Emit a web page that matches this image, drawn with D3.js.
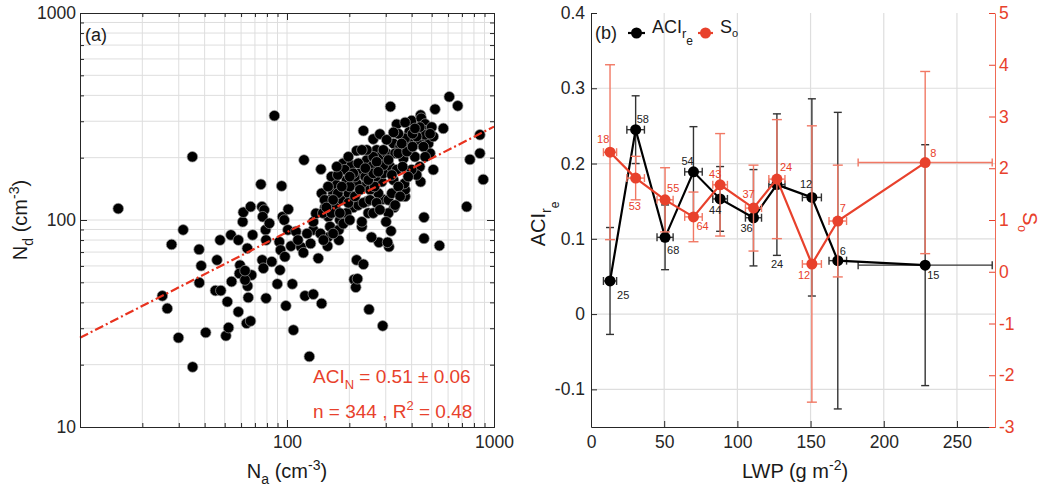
<!DOCTYPE html>
<html><head><meta charset="utf-8">
<script src="https://cdn.jsdelivr.net/npm/d3@7"></script>
<style>body{margin:0;background:#fff} svg{display:block} text{font-family:"Liberation Sans",Arial,sans-serif}</style>
</head><body><svg id="c" width="1050" height="495"></svg>
<script>
// ---------- Panel (a) data: aerosol vs droplet number ----------
const naValues = [15.3,34.9,25,26.4,29.9,27.7,31.5,35,37.6,38.5,37.7,40.5,45.9,45.1,47.9,47.5,50.7,52.2,51.5,53.6,54,58.2,58.2,59.3,58.9,61.1,61.5,63.8,66.7,65,64.5,64.3,66.7,68.2,67.4,62.7,62.7,74.8,75.7,77.6,76.3,78.8,79.2,75.9,76.9,79.2,82.2,84.4,86.9,91.8,92.5,94.2,89.8,93.1,95.2,97,97.7,98.8,101.4,101,104.5,106.1,107.4,110.5,116.9,120.8,120,122.2,128.2,134,134,134,138,141.6,145.9,147,147,152.6,157,157,158.4,161.4,
211,215,219,217,234,249,290,278,311,306,318,256,178,178,180,209,230,230,234,261,281,316,217,271,339,400,390,423,442,445,465,470,500,519,569,608,668,855,855,765,887,738,459,459,545,509,442,372,372,369,329,309,301,290,287,276,268,247,243,234,149,167,164,187,205,194,174,184,198,217,225,243,256,281,303,315,327,352,365,339,327,393,415,431,438,473,482,491,423,400,385,465,509,423,372,345,303,292,261,158,161,171,194,209,221,234,252,265,292,292,333,362,190,176,152,164,176,201,213,239,247,261,
174,198,209,221,239,271,276,309,321,345,380,404,456,465,491,438,404,358,327,372,415,243,230,201,184,167,155,180,198,213,225,252,271,261,281,309,321,345,352,333,187,201,167,145,150,130,125,113];
const ndValues = [113.5,202,43,37.4,27,76.2,89.6,19.5,72.1,60.1,49.8,28.6,64.1,45.6,45.6,80,27.6,30.2,40.3,84.7,50.4,80,36,60.5,55.2,98,109,31.7,32.5,42.2,48,73,116,84.7,54.2,51.3,56.9,148.7,116,111.7,103.7,89.6,80,64.1,58.5,41.9,96.4,62.9,319,78.5,57.3,146,49.1,71.6,103.7,100,66.5,38.5,112.7,89.6,74.8,49.1,29.4,88,74,195,69.5,43,21.9,43.8,89.6,98,107.6,65.3,176,134.6,39.5,115,82.4,74.8,103.7,92.9,
51.6,47.3,52,64.1,61.1,37,30.8,78,74.3,78,88.5,82.6,80,89.6,100,115,92.9,98,270,246,260,353,216,218,290,302,267,270,321,310,291,270,281,343,277,394,356,258,210,196,157,116,103,81.5,75.2,175,153,130,140,150,115,108,98,126,153,134.6,162,108,123,145,108,134.6,162,188,184,156,148,125,134.6,150,168,195,181,202,210,181,234,226,198,175,156,234,202,234,181,248,234,210,165,175,162,258,253,253,248,261,244,218,202,145,125,115,108,125,118,121,140,145,168,184,210,181,175,165,125,108,134.6,145,162,162,156,168,
181,202,168,188,178,191,171,195,165,210,214,226,226,202,261,281,261,234,265,296,277,218,218,162,145,125,115,108,121,130,140,125,121,108,112,125,134.6,145,130,118,96,100,86,86,80,77,86,80];
const fitSlope = 0.51, fitCoef = 8.34;           // Nd = coef * Na^slope
const xTickLabelsA = [100, 1000];
const yTickLabelsA = [10, 100, 1000];

// ---------- Panel (b) data ----------
const lwp      = [13, 30.5, 50.6, 70, 88.2, 111, 127, 150.9, 168.6, 228.3];
const lwpErr   = [4.5, 6, 5.5, 6, 5, 5.5, 5.5, 6.5, 6, 45.8];
const aciRe    = [0.044, 0.245, 0.102, 0.189, 0.153, 0.128, 0.172, 0.155, 0.071, 0.065];
const aciReErr = [0.071, 0.045, 0.043, 0.06, 0.043, 0.064, 0.094, 0.131, 0.197, 0.16];
const aciCounts = [25, 58, 68, 54, 44, 36, 24, 12, 6, 15];
const so       = [2.31, 1.81, 1.39, 1.06, 1.68, 1.23, 1.79, 0.15, 0.98, 2.11];
const soErr    = [1.69, 0.42, 0.62, 0.48, 0.99, 0.83, 1.15, 2.67, 1.08, 1.76];
const soCounts = [18, 53, 55, 64, 43, 37, 24, 12, 7, 8];
const xTicksB = [0, 50, 100, 150, 200, 250];
const yLeftTicksB = [-0.1, 0, 0.1, 0.2, 0.3, 0.4];
const yRightTicksB = [-3, -2, -1, 0, 1, 2, 3, 4, 5];

// ---------- layout / style (not data) ----------
const aciLabelOffsets = [[7,18],[1,-7],[2,17],[-12,-7],[-11,15],[-13,14],[-6,83],[-12,-9],[2,-6],[2,14]];
const soLabelOffsets  = [[-13,-9],[-7,32],[2,-8],[3,13],[-11,-7],[-11,-10],[3,-8],[-14,15],[2,-9],[5,-6]];
const RED = '#e8412c', RED_ERR = '#f17864', AX = '#262626', GRID = '#dedede';

const svg = d3.select('#c');

// ================= Panel (a) =================
const xa = d3.scaleLog().domain([10, 1000]).range([80, 494]);
const ya = d3.scaleLog().domain([10, 1000]).range([427, 13]);
const ga = svg.append('g');
const allTicksX = xa.ticks().filter(v => v > 10 && v < 1000);
const allTicksY = ya.ticks().filter(v => v > 10 && v < 1000);
ga.selectAll('.gx').data(allTicksX).join('line')
  .attr('x1', d => xa(d)).attr('x2', d => xa(d)).attr('y1', 13).attr('y2', 427)
  .attr('stroke', GRID).attr('stroke-width', 1);
ga.selectAll('.gy').data(allTicksY).join('line')
  .attr('y1', d => ya(d)).attr('y2', d => ya(d)).attr('x1', 80).attr('x2', 494)
  .attr('stroke', GRID).attr('stroke-width', 1);

// scatter
const pts = naValues.map((v, i) => [v, ndValues[i]]);
ga.append('g').selectAll('circle').data(pts).join('circle')
  .attr('cx', d => xa(d[0])).attr('cy', d => ya(d[1])).attr('r', 5.3)
  .attr('fill', '#000').attr('stroke', '#9a9a9a').attr('stroke-width', 0.7);

// fit line
const fitLine = d3.line().x(d => xa(d)).y(d => ya(fitCoef * Math.pow(d, fitSlope)));
ga.append('path').attr('d', fitLine([10, 1000])).attr('fill', 'none')
  .attr('stroke', '#e8321e').attr('stroke-width', 2.2).attr('stroke-dasharray', '9,3,2,3');

// axes (ticks inward)
const minorX = xa.ticks().filter(v => !xTickLabelsA.includes(v) && v !== 10);
const minorY = ya.ticks().filter(v => !yTickLabelsA.includes(v));
function styleAxis(g, col) {
  g.select('.domain').attr('stroke', col);
  g.selectAll('.tick line').attr('stroke', col);
  g.selectAll('.tick text').attr('fill', col).attr('font-size', 17.5)
    .attr('font-family', '"Liberation Sans", Arial, sans-serif');
}
ga.append('g').attr('transform', 'translate(0,427)')
  .call(d3.axisBottom(xa).tickValues(xTickLabelsA).tickSize(-7).tickSizeOuter(0).tickPadding(9).tickFormat(d3.format('d')))
  .call(g => styleAxis(g, AX));
ga.append('g').attr('transform', 'translate(0,427)')
  .call(d3.axisBottom(xa).tickValues(minorX).tickSize(-4).tickSizeOuter(0).tickFormat(''))
  .call(g => styleAxis(g, AX));
ga.append('g').attr('transform', 'translate(0,13)')
  .call(d3.axisTop(xa).tickValues(xTickLabelsA).tickSize(-7).tickSizeOuter(0).tickFormat(''))
  .call(g => styleAxis(g, AX));
ga.append('g').attr('transform', 'translate(0,13)')
  .call(d3.axisTop(xa).tickValues(minorX).tickSize(-4).tickSizeOuter(0).tickFormat(''))
  .call(g => styleAxis(g, AX));
ga.append('g').attr('transform', 'translate(80,0)')
  .call(d3.axisLeft(ya).tickValues(yTickLabelsA).tickSize(-7).tickSizeOuter(0).tickPadding(4).tickFormat(d3.format('d')))
  .call(g => styleAxis(g, AX));
ga.append('g').attr('transform', 'translate(80,0)')
  .call(d3.axisLeft(ya).tickValues(minorY).tickSize(-4).tickSizeOuter(0).tickFormat(''))
  .call(g => styleAxis(g, AX));
ga.append('g').attr('transform', 'translate(494,0)')
  .call(d3.axisRight(ya).tickValues(yTickLabelsA).tickSize(-7).tickSizeOuter(0).tickFormat(''))
  .call(g => styleAxis(g, AX));
ga.append('g').attr('transform', 'translate(494,0)')
  .call(d3.axisRight(ya).tickValues(minorY).tickSize(-4).tickSizeOuter(0).tickFormat(''))
  .call(g => styleAxis(g, AX));

// text helper: parts [text, size, dy]
function rich(parent, x, y, parts, opts = {}) {
  const t = parent.append('text').attr('x', x).attr('y', y).attr('fill', opts.fill || '#1a1a1a');
  if (opts.anchor) t.attr('text-anchor', opts.anchor);
  if (opts.transform) t.attr('transform', opts.transform).attr('x', 0).attr('y', 0);
  parts.forEach(p => t.append('tspan').text(p[0]).attr('font-size', p[1]).attr('dy', p[2] || 0));
  return t;
}
rich(ga, 85, 41, [['(a)', 18]]);
rich(ga, 287, 478, [['N', 20], ['a', 14, 6], [' (cm', 20, -6], ['-3', 14, -8], [')', 20, 8]], {anchor: 'middle'});
rich(ga, 0, 0, [['N', 20], ['d', 14, 6], [' (cm', 20, -6], ['-3', 14, -8], [')', 20, 8]],
  {anchor: 'middle', transform: 'translate(27,220) rotate(-90)'});
rich(ga, 313, 383, [['ACI', 19], ['N', 13, 6], [' = 0.51 \u00b1 0.06', 19, -6]], {fill: RED});
rich(ga, 313, 418, [['n = 344 , R', 19], ['2', 13, -8], [' = 0.48', 19, 8]], {fill: RED});

// ================= Panel (b) =================
const xb = d3.scaleLinear().domain([0, 276]).range([591, 995]);
const yl = d3.scaleLinear().domain([-0.15, 0.4]).range([427, 13]);
const yr = d3.scaleLinear().domain([-3, 5]).range([427, 13]);
const gb = svg.append('g');
gb.selectAll('.gx').data(xTicksB.filter(v => v > 0)).join('line')
  .attr('x1', d => xb(d)).attr('x2', d => xb(d)).attr('y1', 13).attr('y2', 427)
  .attr('stroke', GRID).attr('stroke-width', 1.2);
gb.selectAll('.gy').data(yLeftTicksB.filter(v => v < 0.4)).join('line')
  .attr('y1', d => yl(d)).attr('y2', d => yl(d)).attr('x1', 591).attr('x2', 995)
  .attr('stroke', GRID).attr('stroke-width', 1.2);

function drawSeries(g, ys, yErr, scale, col, errCol, capY, capX, r) {
  const eg = g.append('g').attr('stroke', errCol).attr('stroke-width', 1.4).attr('fill', 'none');
  lwp.forEach((x, i) => {
    const cx = xb(x), cy = scale(ys[i]);
    const y0 = scale(ys[i] - yErr[i]), y1 = scale(ys[i] + yErr[i]);
    const x0 = xb(x - lwpErr[i]), x1 = xb(x + lwpErr[i]);
    eg.append('line').attr('x1', cx).attr('x2', cx).attr('y1', y0).attr('y2', y1);
    eg.append('line').attr('x1', cx - capY).attr('x2', cx + capY).attr('y1', y0).attr('y2', y0);
    eg.append('line').attr('x1', cx - capY).attr('x2', cx + capY).attr('y1', y1).attr('y2', y1);
    eg.append('line').attr('x1', x0).attr('x2', x1).attr('y1', cy).attr('y2', cy);
    eg.append('line').attr('x1', x0).attr('x2', x0).attr('y1', cy - capX).attr('y2', cy + capX);
    eg.append('line').attr('x1', x1).attr('x2', x1).attr('y1', cy - capX).attr('y2', cy + capX);
  });
  const line = d3.line().x((d, i) => xb(lwp[i])).y(d => scale(d));
  g.append('path').attr('d', line(ys)).attr('fill', 'none').attr('stroke', col).attr('stroke-width', 2.2);
  g.append('g').selectAll('circle').data(ys).join('circle')
    .attr('cx', (d, i) => xb(lwp[i])).attr('cy', d => scale(d)).attr('r', r).attr('fill', col);
}
drawSeries(gb, aciRe, aciReErr, yl, '#000', '#333', 4, 4, 5.5);
drawSeries(gb, so, soErr, yr, RED, RED_ERR, 5, 4, 5.5);

// count labels
gb.append('g').selectAll('text').data(aciCounts).join('text')
  .attr('x', (d, i) => xb(lwp[i]) + aciLabelOffsets[i][0]).attr('y', (d, i) => yl(aciRe[i]) + aciLabelOffsets[i][1])
  .attr('font-size', 11).attr('fill', '#222').text(d => d);
gb.append('g').selectAll('text').data(soCounts).join('text')
  .attr('x', (d, i) => xb(lwp[i]) + soLabelOffsets[i][0]).attr('y', (d, i) => yr(so[i]) + soLabelOffsets[i][1])
  .attr('font-size', 11).attr('fill', RED).text(d => d);

// axes
const fmtB = v => v === 0 ? '0' : (v < 0 ? '-' + Math.abs(v).toFixed(1) : v.toFixed(1));
gb.append('g').attr('transform', 'translate(0,427)')
  .call(d3.axisBottom(xb).tickValues(xTicksB).tickSize(-6).tickSizeOuter(0).tickPadding(9).tickFormat(d3.format('d')))
  .call(g => styleAxis(g, AX));
gb.append('g').attr('transform', 'translate(591,0)')
  .call(d3.axisLeft(yl).tickValues(yLeftTicksB).tickSize(-6).tickSizeOuter(0).tickPadding(6).tickFormat(fmtB))
  .call(g => styleAxis(g, AX));
gb.append('g').attr('transform', 'translate(995,0)')
  .call(d3.axisRight(yr).tickValues(yRightTicksB).tickSize(-6).tickSizeOuter(0).tickPadding(4).tickFormat(v => v < 0 ? '-' + Math.abs(v) : String(v)))
  .call(g => styleAxis(g, RED))
  .call(g => g.select('.domain').attr('stroke', '#ef6a55'));

// labels
rich(gb, 795, 478, [['LWP (g m', 20], ['-2', 14, -8], [')', 20, 8]], {anchor: 'middle'});
rich(gb, 0, 0, [['ACI', 20], ['r', 14, 6], ['e', 12, 8]],
  {anchor: 'middle', transform: 'translate(545,224) rotate(-90)'});
rich(gb, 0, 0, [['S', 20], ['o', 12, 5]],
  {anchor: 'middle', fill: RED, transform: 'translate(1023,222) rotate(90)'});

// legend
rich(gb, 595, 39, [['(b)', 18]]);
gb.append('line').attr('x1', 628).attr('x2', 645).attr('y1', 33).attr('y2', 33).attr('stroke', '#000').attr('stroke-width', 2.2);
gb.append('circle').attr('cx', 636.5).attr('cy', 33).attr('r', 5.5).attr('fill', '#000');
rich(gb, 652, 33, [['ACI', 18], ['r', 13, 5], ['e', 12, 7]]);
gb.append('line').attr('x1', 698).attr('x2', 713).attr('y1', 33).attr('y2', 33).attr('stroke', RED).attr('stroke-width', 2.2);
gb.append('circle').attr('cx', 705.5).attr('cy', 33).attr('r', 5.5).attr('fill', RED);
rich(gb, 720, 33, [['S', 18], ['o', 11, 4]]);
</script></body></html>
